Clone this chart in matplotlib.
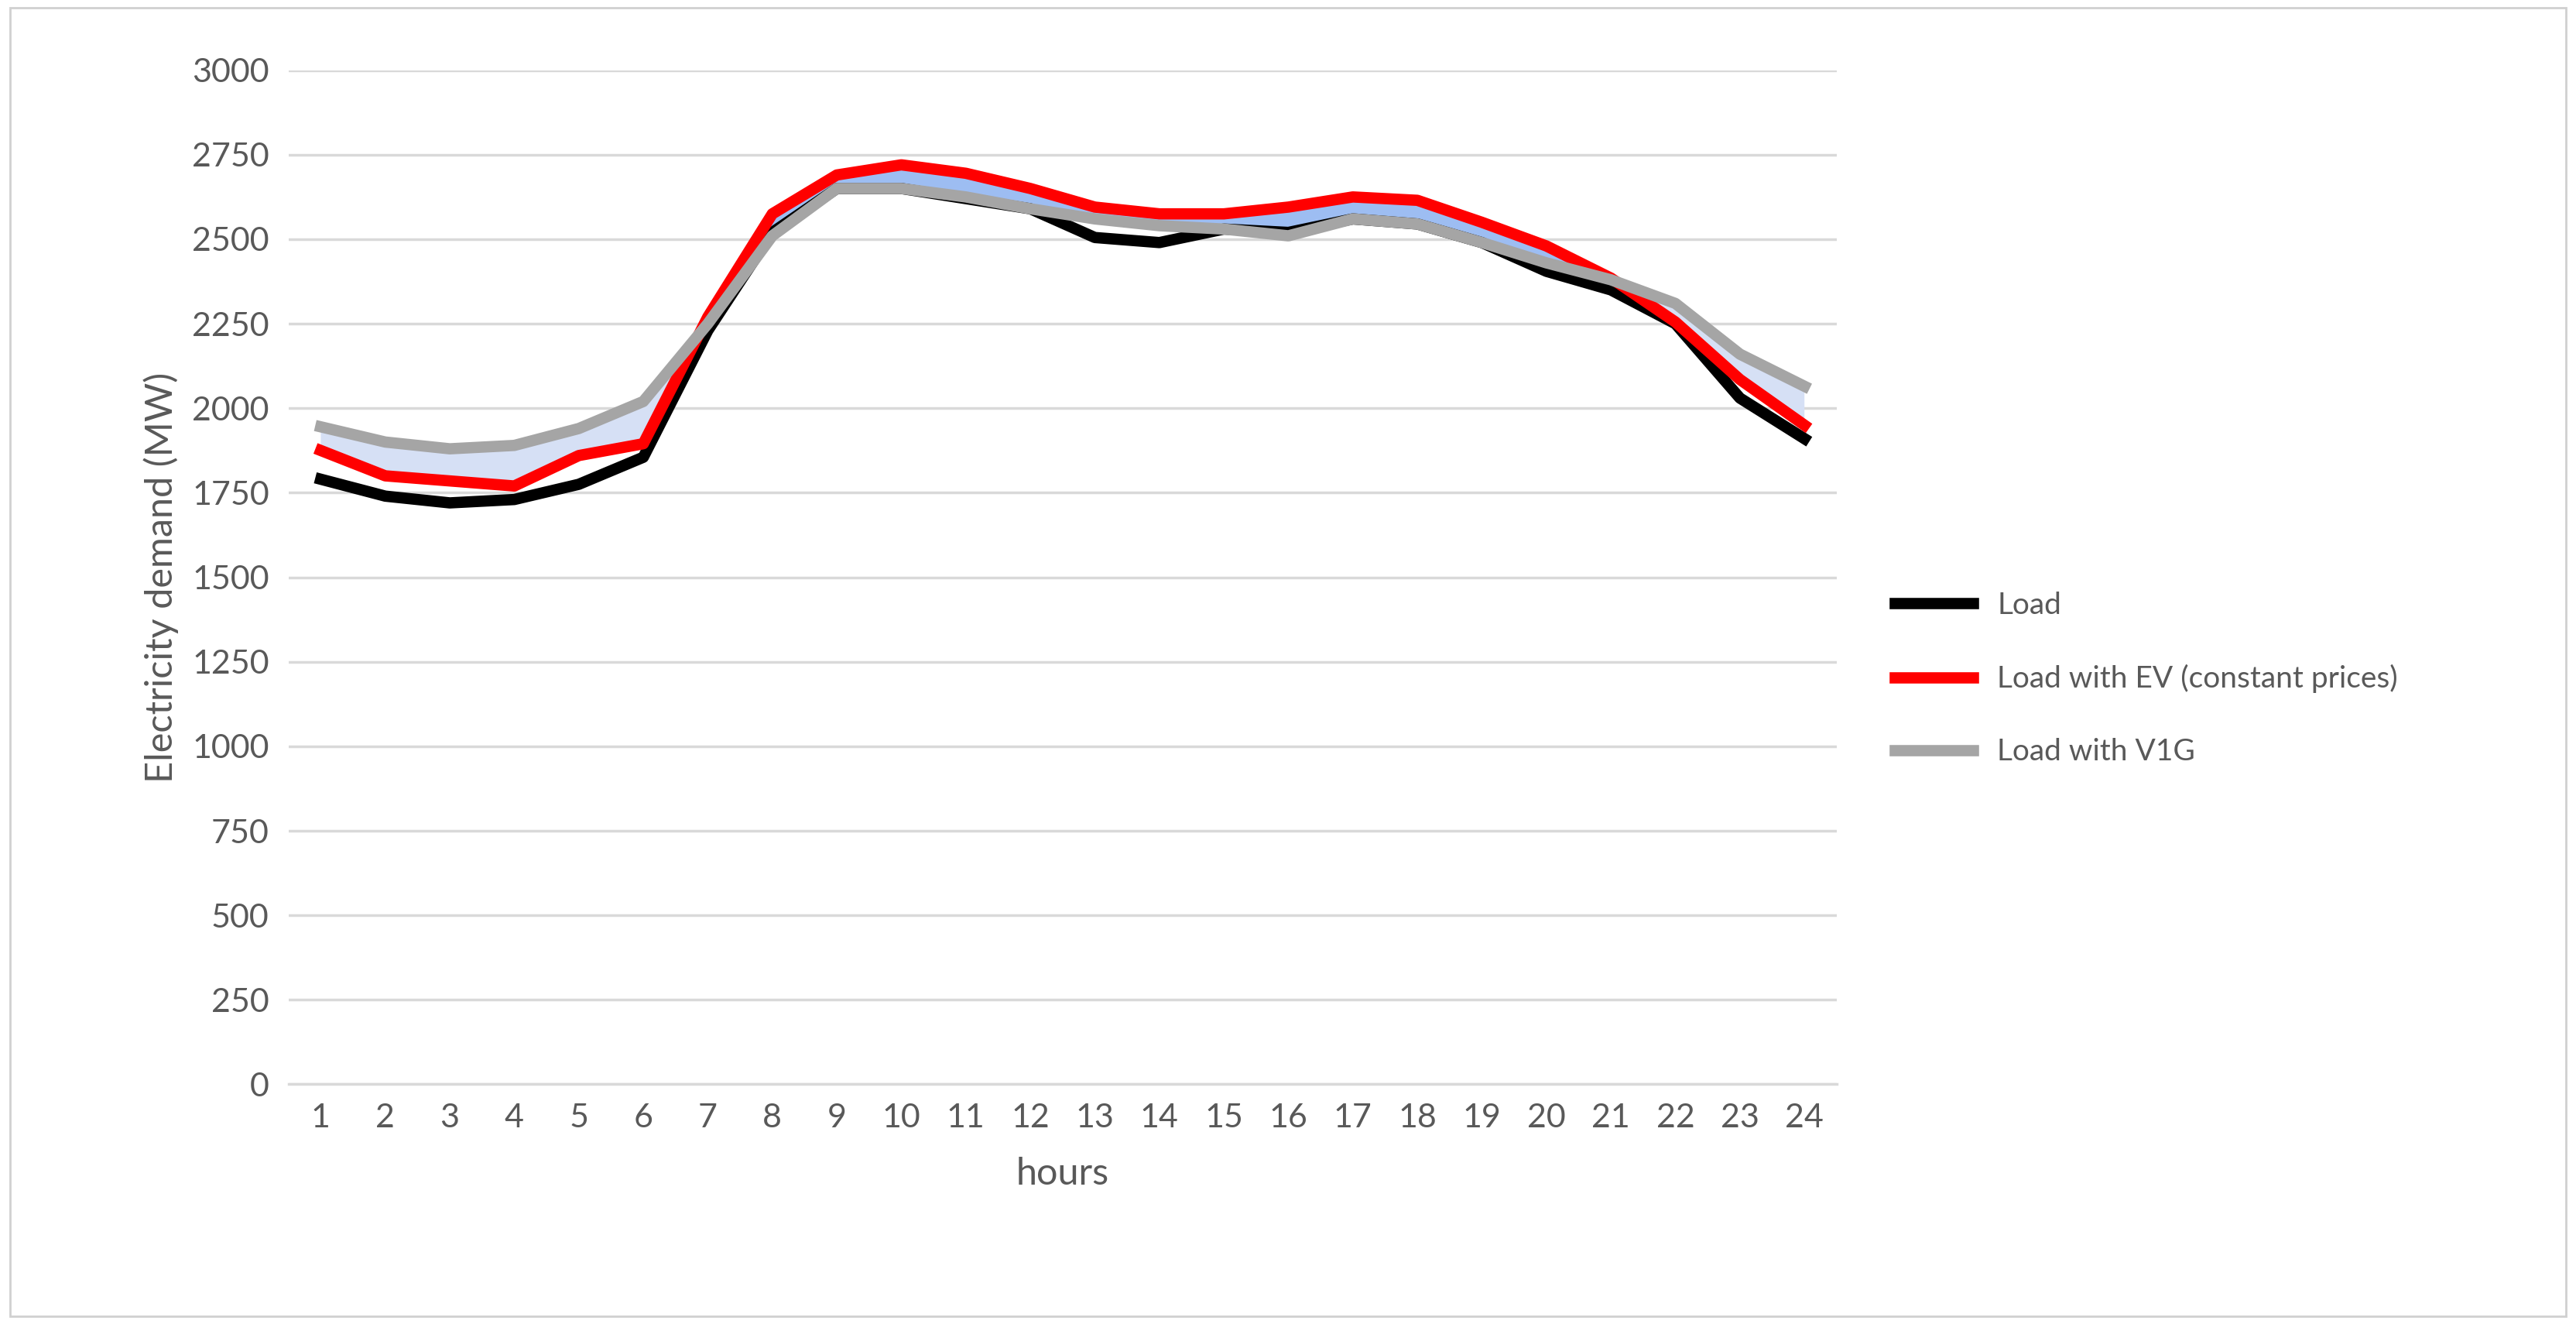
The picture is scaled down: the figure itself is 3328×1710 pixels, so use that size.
import matplotlib.pyplot as plt
from matplotlib.patches import Rectangle

plt.rcParams['font.family'] = ['Lato', 'DejaVu Sans']

# 数据
hours = list(range(1, 25))
load = [1790, 1740, 1720, 1730, 1775, 1855, 2230, 2520, 2650, 2650, 2620, 2590,
        2505, 2490, 2530, 2520, 2560, 2545, 2490, 2405, 2350, 2250, 2030, 1910]
load_ev = [1875, 1800, 1785, 1770, 1860, 1895, 2270, 2575, 2690, 2720, 2695, 2650,
           2595, 2575, 2575, 2595, 2625, 2615, 2550, 2480, 2385, 2255, 2085, 1950]
load_v1g = [1945, 1900, 1880, 1890, 1940, 2020, 2250, 2510, 2650, 2650, 2625, 2590,
            2560, 2540, 2530, 2510, 2560, 2545, 2490, 2430, 2380, 2310, 2160, 2065]
y_ticks = list(range(0, 3001, 250))

txt = '#595959'
fig = plt.figure(figsize=(33.28, 17.10), dpi=100)
fig.patches.append(Rectangle((0.004, 0.006), 0.992, 0.988, transform=fig.transFigure,
                             fill=False, edgecolor='#d0d0d0', linewidth=2))
ax = fig.add_axes([0.112, 0.181, 0.601, 0.766])

ax.fill_between(hours, load_ev, load_v1g, where=[e >= v for e, v in zip(load_ev, load_v1g)],
                interpolate=True, color='#9dbdf2', linewidth=0)
ax.fill_between(hours, load_ev, load_v1g, where=[e < v for e, v in zip(load_ev, load_v1g)],
                interpolate=True, color='#d6e0f5', linewidth=0)
ax.plot(hours, load, color='black', linewidth=10.5, label='Load', solid_joinstyle='round')
ax.plot(hours, load_ev, color='#ff0000', linewidth=10.5, label='Load with EV (constant prices)',
        solid_joinstyle='round')
ax.plot(hours, load_v1g, color='#a5a5a5', linewidth=10.5, label='Load with V1G', solid_joinstyle='round')

ax.set_xlim(0.5, 24.5)
ax.set_ylim(0, 3000)
ax.set_xticks(hours)
ax.set_yticks(y_ticks)
ax.grid(axis='y', color='#d9d9d9', linewidth=2.5)
ax.set_axisbelow(True)
for s in ['top', 'right', 'left']:
    ax.spines[s].set_visible(False)
ax.spines['bottom'].set_color('#d9d9d9')
ax.spines['bottom'].set_linewidth(2.5)
ax.tick_params(length=0, labelsize=31, labelcolor=txt, pad=18)
ax.set_xlabel('hours', fontsize=35, color=txt, labelpad=22)
ax.set_ylabel('Electricity demand (MW)', fontsize=35, color=txt, labelpad=12)

ax.legend(loc='center left', bbox_to_anchor=(1.02, 0.40), frameon=False, fontsize=28,
          labelcolor=txt, handlelength=2.6, labelspacing=1.5)

fig.savefig('out.png', dpi=100)
